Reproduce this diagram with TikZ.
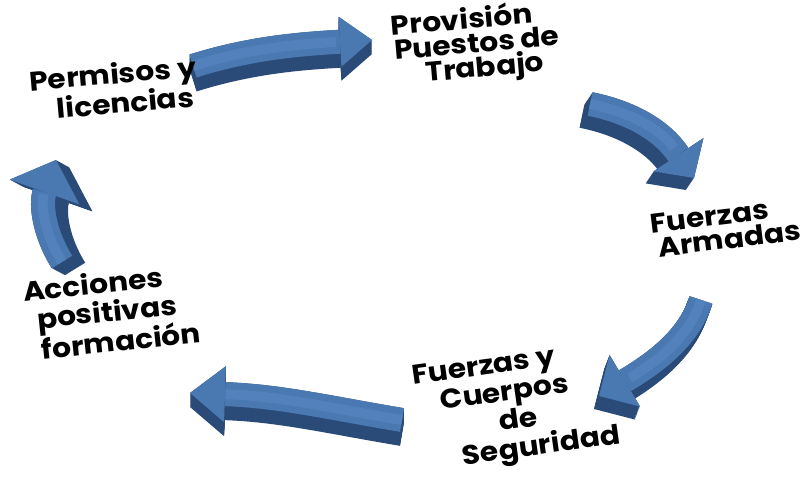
\documentclass[tikz,border=0pt]{standalone}
\usepackage{fontspec}
\setmainfont{Poppins}[FakeStretch=1.1]
\usetikzlibrary{arrows.meta}
\definecolor{topc}{HTML}{4A78B0}
\definecolor{hic}{HTML}{5281BB}
\definecolor{sidec}{HTML}{2A4A78}
\tikzset{lbl/.style={font=\bfseries\fontsize{27}{24.5}\selectfont, align=center, text=black, inner sep=0pt},
  lblwide/.style={lbl, font=\bfseries\fontsize{27}{29}\selectfont}}
\newcommand\sh[1]{\hspace*{#1pt}}
\newcommand\blockarrow[6]{%
  \foreach \i in {0,...,14}{
    \draw[sidec, line width=#6, -{Triangle[length=#4,width=#5,line width=0pt]}, shift={({\i*(#2)/14},{\i*(#3)/14})}] #1;
  }
  \draw[topc, line width=#6, -{Triangle[length=#4,width=#5,line width=0pt]}] #1;
  \draw[hic, line width=10pt, shorten >=36pt] #1;
}
\begin{document}
\begin{tikzpicture}[x=1pt,y=-1pt]
\useasboundingbox (0,0) rectangle (803,481);
% arrows
\blockarrow{(193,66) .. controls (250,48) and (300,44) .. (372,40)}{0}{14}{32pt}{50pt}{24pt}
\blockarrow{(590,104) .. controls (630,112) and (662,130) .. (694,178)}{-8}{12}{28pt}{60pt}{24pt}
\blockarrow{(701,300) .. controls (690,335) and (660,360) .. (599,396)}{-5}{13}{30pt}{60pt}{24pt}
\blockarrow{(402,420) .. controls (330,408) and (280,396) .. (190,393)}{0}{14}{35pt}{56pt}{24pt}
\blockarrow{(62,262) .. controls (45,235) and (40,205) .. (56,160)}{13}{7}{34pt}{74pt}{24pt}
% labels
\node[lbl, rotate=5] (permisos) at (114,88) {Permisos y\\\sh{20}licencias};
\node[lbl, rotate=5] (provision) at (464,46) {Provisión\\\sh{26}Puestos de\\\sh{38}Trabajo};
\node[lbl, rotate=7] (armadas) at (711,229) {Fuerzas\\\sh{34}Armadas};
\node[lblwide, rotate=8] (seguridad) at (490,412) {Fuerzas y\\\sh{34}Cuerpos\\\sh{54}de\\\sh{92}Seguridad};
\node[lblwide, rotate=6] (acciones) at (96,313) {Acciones\\\sh{22}positivas\\\sh{44}formación};
\end{tikzpicture}
\end{document}
